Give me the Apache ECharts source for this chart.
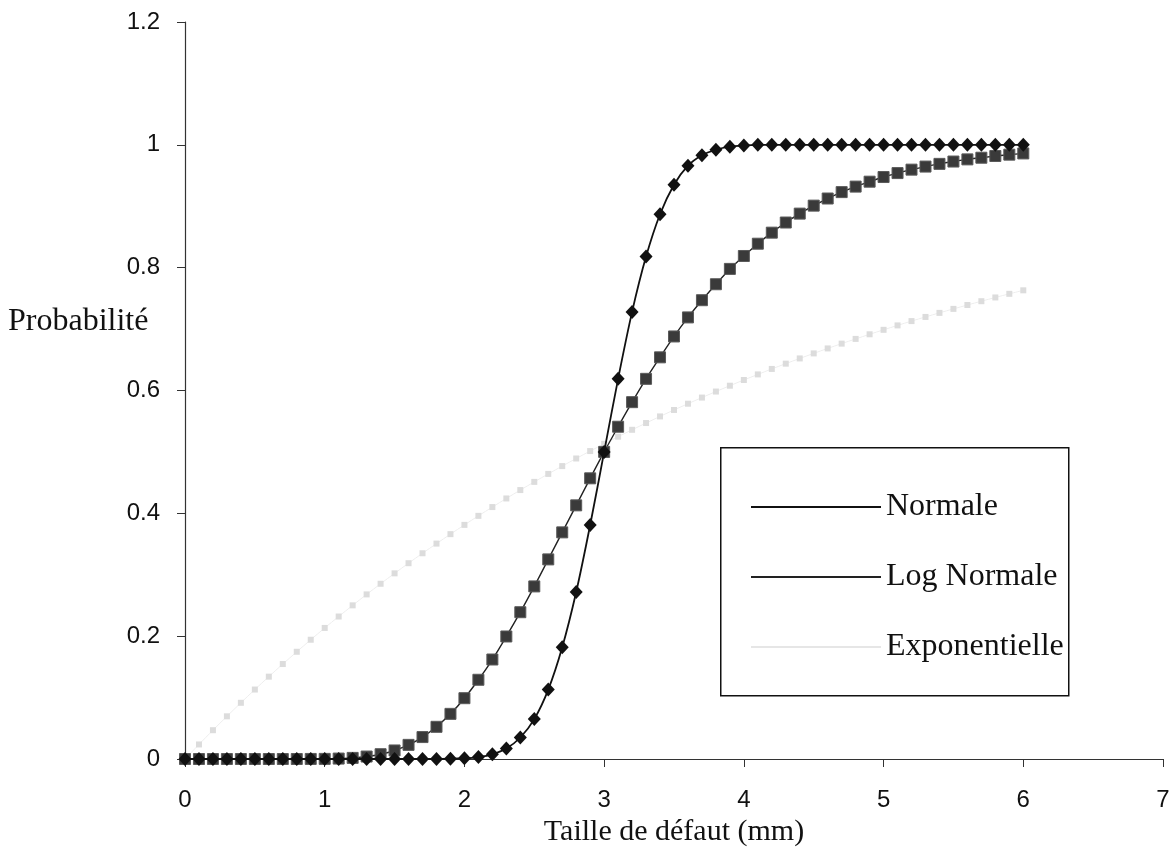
<!DOCTYPE html>
<html>
<head>
<meta charset="utf-8">
<script src="https://cdn.jsdelivr.net/npm/echarts@6/dist/echarts.min.js"></script>
<style>
html,body{margin:0;padding:0;background:#fff;}
#chart{width:1174px;height:852px;}
</style>
</head>
<body>
<div id="chart"></div>
<script>
// Defect size (mm), step 0.1
var tailles = [0,0.1,0.2,0.3,0.4,0.5,0.6,0.7,0.8,0.9,
  1,1.1,1.2,1.3,1.4,1.5,1.6,1.7,1.8,1.9,
  2,2.1,2.2,2.3,2.4,2.5,2.6,2.7,2.8,2.9,
  3,3.1,3.2,3.3,3.4,3.5,3.6,3.7,3.8,3.9,
  4,4.1,4.2,4.3,4.4,4.5,4.6,4.7,4.8,4.9,
  5,5.1,5.2,5.3,5.4,5.5,5.6,5.7,5.8,5.9,
  6];

var normale = [0,0,0,0,0,0,0,0,0,0,
  0,0,0,0,0,0,0,0,0.0001,0.0004,
  0.0012,0.0032,0.0077,0.017,0.035,0.065,0.113,0.182,0.272,0.381,
  0.5,0.619,0.728,0.818,0.887,0.935,0.966,0.983,0.992,0.997,
  0.999,1,1,1,1,1,1,1,1,1,
  1,1,1,1,1,1,1,1,1,1,
  1];

var logNormale = [0,0,0,0,0,0,0,0,0,0.0001,
  0.0002,0.0007,0.0018,0.004,0.0078,0.0139,0.023,0.0357,0.0524,0.0735,
  0.099,0.129,0.162,0.1995,0.239,0.281,0.325,0.369,0.413,0.457,
  0.5,0.541,0.581,0.619,0.654,0.688,0.719,0.747,0.773,0.798,
  0.819,0.839,0.857,0.8735,0.888,0.901,0.9126,0.923,0.932,0.940,
  0.9476,0.954,0.9596,0.9646,0.969,0.9728,0.9763,0.979,0.9818,0.984,
  0.986];

var exponentielle = [0,0.0237,0.0469,0.0695,0.0915,0.1131,0.1341,0.1546,0.1746,0.1942,
  0.2134,0.232,0.2502,0.268,0.2853,0.3023,0.3188,0.335,0.3507,0.3661,
  0.3812,0.3959,0.4102,0.4242,0.4379,0.4512,0.4642,0.4769,0.4893,0.5014,
  0.5132,0.5248,0.536,0.547,0.5578,0.5683,0.5785,0.5885,0.5983,0.6078,
  0.6171,0.6262,0.6351,0.6437,0.6522,0.6604,0.6685,0.6763,0.684,0.6915,
  0.6988,0.706,0.713,0.7198,0.7264,0.7329,0.7392,0.7454,0.7515,0.7574,
  0.7631];

var seriesNames = ['Normale', 'Log Normale', 'Exponentielle'];

function pairs(ys){ return tailles.map(function(x,i){ return [x, ys[i]]; }); }

var chart = echarts.init(document.getElementById('chart'), null, {renderer:'canvas'});
var serif = "'Liberation Serif', 'Times New Roman', serif";
var sans = "'Liberation Sans', Arial, sans-serif";

chart.setOption({
  animation: false,
  backgroundColor: '#ffffff',
  grid: {left: 185, right: 11, top: 22, bottom: 93, containLabel: false, outerBoundsMode: 'none'},
  xAxis: {
    type: 'value', min: 0, max: 7, interval: 1,
    name: 'Taille de défaut (mm)', nameLocation: 'middle', nameGap: 58,
    nameTextStyle: {fontFamily: serif, fontSize: 30, color: '#111'},
    axisLine: {show: true, onZero: false, lineStyle: {color: '#333', width: 1.2}},
    axisTick: {show: true, inside: false, length: 8, lineStyle: {color: '#333'}},
    axisLabel: {fontFamily: sans, fontSize: 24, color: '#111', margin: 29},
    splitLine: {show: false}
  },
  yAxis: {
    type: 'value', min: 0, max: 1.2, interval: 0.2,
    axisLine: {show: true, lineStyle: {color: '#333', width: 1.2}},
    axisTick: {show: true, inside: false, length: 8, lineStyle: {color: '#333'}},
    axisLabel: {fontFamily: sans, fontSize: 24, color: '#111', margin: 25},
    splitLine: {show: false}
  },
  legend: {
    orient: 'vertical', left: 746, top: 486,
    icon: 'rect', itemWidth: 130, itemHeight: 2, itemGap: 38,
    textStyle: {fontFamily: serif, fontSize: 32, color: '#111', lineHeight: 32},
    data: [
      {name: seriesNames[0], itemStyle: {color: '#111', borderWidth: 0}},
      {name: seriesNames[1], itemStyle: {color: '#222', borderWidth: 0}},
      {name: seriesNames[2], itemStyle: {color: '#e6e6e6', borderWidth: 0}}
    ]
  },
  graphic: [
    {type: 'rect', left: 720, top: 447, z: 10,
     shape: {width: 348, height: 248},
     style: {fill: 'transparent', stroke: '#111', lineWidth: 1.5}},
    {type: 'text', left: 8, top: 306, z: 10,
     style: {text: 'Probabilité', font: "32px 'Liberation Serif', serif", fill: '#111'}}
  ],
  series: [
    {
      name: seriesNames[2], type: 'line', data: pairs(exponentielle), z: 1,
      smooth: 0.3, symbol: 'rect', symbolSize: 6, showAllSymbol: true,
      itemStyle: {color: '#dcdcdc'},
      lineStyle: {color: '#eeeeee', width: 1}
    },
    {
      name: seriesNames[1], type: 'line', data: pairs(logNormale), z: 2,
      smooth: 0.3, symbol: 'rect', symbolSize: 11, showAllSymbol: true,
      itemStyle: {color: '#3a3a3a', borderColor: '#5a5a5a', borderWidth: 1},
      lineStyle: {color: '#222', width: 1.4}
    },
    {
      name: seriesNames[0], type: 'line', data: pairs(normale), z: 3,
      smooth: 0.3, symbol: 'diamond', symbolSize: [13, 14], showAllSymbol: true,
      itemStyle: {color: '#111'},
      lineStyle: {color: '#111', width: 1.8}
    }
  ]
});
</script>
</body>
</html>
